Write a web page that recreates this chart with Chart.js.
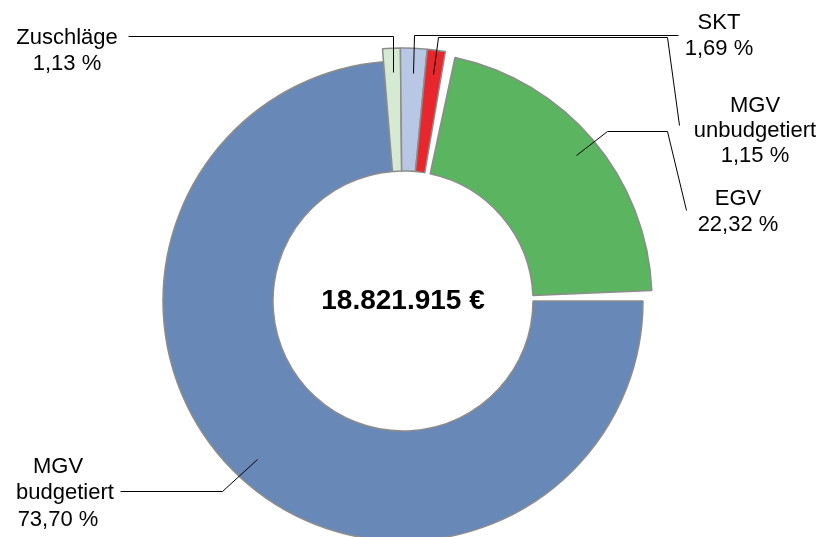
<!DOCTYPE html>
<html><head><meta charset="utf-8">
<script src="https://cdn.jsdelivr.net/npm/chart.js@4.4.1/dist/chart.umd.min.js"></script>
<style>html,body{margin:0;padding:0;background:#fff;overflow:hidden}</style>
</head><body>
<canvas id="c" width="826" height="537"></canvas>
<script>
// ---- data ----
const categories = ['MGV budgetiert', 'Zuschläge', 'SKT', 'MGV unbudgetiert', 'EGV'];
const labelNames = [['MGV', 'budgetiert'], ['Zuschläge'], ['SKT'], ['MGV', 'unbudgetiert'], ['EGV']];
const shares = [73.70, 1.13, 1.69, 1.15, 22.32];
const totalEuro = 18821915;

// ---- styles ----
const colors = ['#6888B8', '#D5E9D3', '#B8C7E3', '#E8262B', '#5BB460'];
const outerRadii = [240, 253, 253, 253, 249];
const insetPx = [0, 0, 0, 0, 8];
const FONT = '"Liberation Sans", Arial, sans-serif';

const fmtPct = v => v.toFixed(2).replace('.', ',') + ' %';
const fmtEuro = v => String(v).replace(/\B(?=(\d{3})+(?!\d))/g, '.') + ' €';

// label layout relative to ring centre c and leader start s
const labelLayout = [
  { r: 215, path: (s, c) => [[s.x, s.y], [c.x - 181, c.y + 190], [c.x - 283, c.y + 190]],
    dx: [-345, -338, -345], dy: [172, 198, 225] },
  { r: 229, path: (s, c) => [[s.x, s.y], [s.x, c.y - 265], [c.x - 275, c.y - 265]],
    dx: [-336, -336], dy: [-257, -231] },
  { r: 228, path: (s, c) => [[s.x, s.y], [s.x + 1, c.y - 266], [c.x + 275, c.y - 266]],
    dx: [316, 316], dy: [-272, -246] },
  { r: 229, path: (s, c) => [[s.x, s.y], [s.x + 5, c.y - 264], [c.x + 264, c.y - 264], [c.x + 276, c.y - 176]],
    dx: [352, 352, 352], dy: [-189, -164, -139] },
  { r: 227, path: (s, c) => [[s.x, s.y], [c.x + 204, c.y - 170], [c.x + 264, c.y - 170], [c.x + 283, c.y - 91]],
    dx: [335, 335], dy: [-96, -70] }
];

const ringShape = {
  id: 'ringShape',
  afterDatasetsUpdate(chart) {
    const meta = chart.getDatasetMeta(0);
    meta.data.forEach((arc, i) => {
      arc.outerRadius = outerRadii[i];
      if (insetPx[i]) {
        const mid = (arc.innerRadius + arc.outerRadius) / 2;
        const da = insetPx[i] / mid;
        arc.startAngle += da;
        arc.endAngle -= da;
        arc.circumference = arc.endAngle - arc.startAngle;
      }
    });
  }
};

const labelsPlugin = {
  id: 'labelsPlugin',
  afterDraw(chart) {
    const ctx = chart.ctx;
    const meta = chart.getDatasetMeta(0);
    const c = { x: meta.data[0].x, y: meta.data[0].y };
    ctx.save();
    ctx.fillStyle = '#000';
    ctx.textAlign = 'center';
    ctx.textBaseline = 'alphabetic';
    ctx.font = 'bold 28px ' + FONT;
    ctx.fillText(fmtEuro(totalEuro), c.x, c.y + 8);

    meta.data.forEach((arc, i) => {
      const L = labelLayout[i];
      const midA = (arc.startAngle + arc.endAngle) / 2;
      const s = { x: c.x + Math.cos(midA) * L.r, y: c.y + Math.sin(midA) * L.r };
      const pts = L.path(s, c);
      ctx.beginPath();
      pts.forEach((p, k) => {
        const x = Math.round(p[0]) + 0.5, y = Math.round(p[1]) + 0.5;
        if (k === 0) ctx.moveTo(x, y); else ctx.lineTo(x, y);
      });
      ctx.lineWidth = 1;
      ctx.strokeStyle = '#000';
      ctx.stroke();

      const lines = [...labelNames[i], fmtPct(shares[i])];
      ctx.font = '22px ' + FONT;
      lines.forEach((t, k) => ctx.fillText(t, c.x + L.dx[k], c.y + L.dy[k]));
    });
    ctx.restore();
  }
};

new Chart(document.getElementById('c'), {
  type: 'doughnut',
  data: {
    labels: categories,
    datasets: [{
      data: shares,
      backgroundColor: colors,
      borderColor: '#8C8C8C',
      borderWidth: 1.5
    }]
  },
  options: {
    responsive: false,
    devicePixelRatio: 1,
    animation: false,
    events: [],
    rotation: 90,
    radius: 240,
    cutout: '54.17%',
    layout: { padding: { left: 0, right: 20, top: 65, bottom: 0 } },
    plugins: { legend: { display: false }, tooltip: { enabled: false } }
  },
  plugins: [ringShape, labelsPlugin]
});
</script>
</body></html>
